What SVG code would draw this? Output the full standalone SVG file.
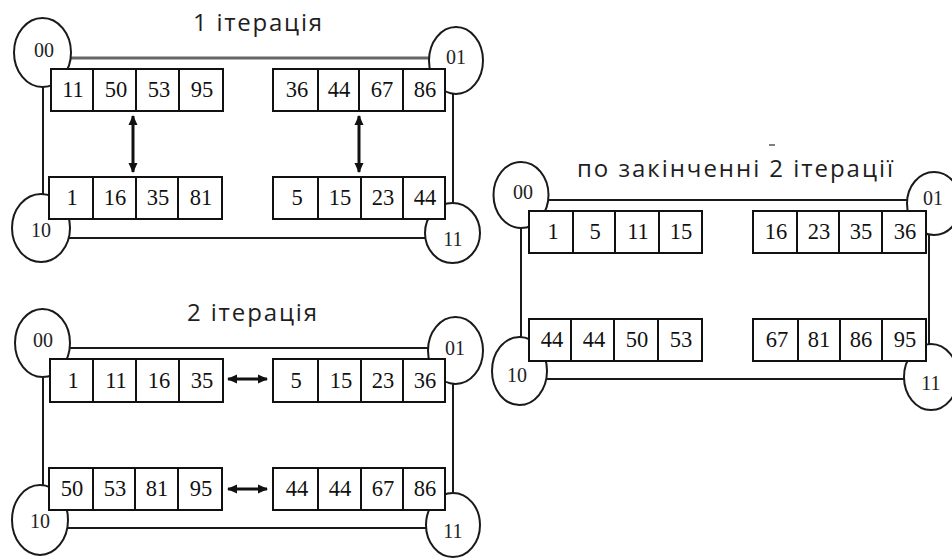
<svg xmlns="http://www.w3.org/2000/svg" width="952" height="560" viewBox="0 0 952 560">
  <style>
    .ring { stroke: #1a1a1a; stroke-width: 2; fill: none; }
    .ring.grey { stroke: #666; stroke-width: 3; }
    .xchg { stroke: #111; stroke-width: 3; fill: none; marker-start: url(#ah); marker-end: url(#ah); }
    .proc ellipse { fill: #fff; stroke: #1a1a1a; stroke-width: 2; }
    .proc rect { fill: #fff; stroke: #111; stroke-width: 2; }
    .lbl { font-family: "Liberation Serif", "Times New Roman", serif; font-size: 20px; fill: #222; text-anchor: middle; }
    .num { font-family: "Liberation Serif", "Times New Roman", serif; font-size: 22.5px; fill: #111; text-anchor: middle; }
    .title { font-family: "Open Sans", "DejaVu Sans", sans-serif; font-size: 24px; fill: #1e1e1e; text-anchor: middle; }
  </style>
  <defs>
    <marker id="ah" viewBox="0 0 10 10" refX="9" refY="5" markerWidth="11" markerHeight="10" markerUnits="userSpaceOnUse" orient="auto-start-reverse">
      <path d="M0,0.5 L10,5 L0,9.5 z" fill="#111"/>
    </marker>
  </defs>

  <rect width="952" height="560" fill="#fff"/>

  <!-- titles -->
  <text class="title" x="257.5" y="31" textLength="129">1 ітерація</text>
  <text class="title" x="252" y="321" textLength="130">2 ітерація</text>
  <text class="title" x="735" y="177" textLength="316">по закінченні 2 ітерації</text>
  <line x1="769" y1="145" x2="775" y2="145" stroke="#555" stroke-width="1.5"/>

  <!-- ring links and exchange arrows -->
  <g id="connectors">
    <!-- iteration 1 -->
    <line class="ring grey" x1="60" y1="58" x2="440" y2="58"/>
    <line class="ring" x1="60" y1="238" x2="440" y2="238"/>
    <line class="ring" x1="43" y1="70" x2="43" y2="210"/>
    <line class="ring" x1="453" y1="80" x2="453" y2="215"/>
    <line class="xchg" x1="133" y1="116" x2="133" y2="172"/>
    <line class="xchg" x1="359" y1="116" x2="359" y2="172"/>
    <!-- iteration 2 -->
    <line class="ring" x1="60" y1="348" x2="440" y2="348"/>
    <line class="ring" x1="60" y1="528" x2="440" y2="528"/>
    <line class="ring" x1="43" y1="360" x2="43" y2="500"/>
    <line class="ring" x1="453" y1="370" x2="453" y2="510"/>
    <line class="xchg" x1="228" y1="379" x2="267" y2="379"/>
    <line class="xchg" x1="228" y1="489" x2="267" y2="489"/>
    <!-- after iteration 2 -->
    <line class="ring" x1="535" y1="200" x2="920" y2="200"/>
    <line class="ring" x1="535" y1="379" x2="920" y2="379"/>
    <line class="ring" x1="521" y1="210" x2="521" y2="355"/>
    <line class="ring" x1="929" y1="220" x2="929" y2="360"/>
  </g>

  <!-- ===== iteration 1 ===== -->
  <g id="p1-00" class="proc">
    <ellipse cx="42.5" cy="52.5" rx="28.5" ry="34.5"/>
    <text class="lbl" x="44" y="57">00</text>
    <rect x="51" y="69" width="42" height="42"/><rect x="93" y="69" width="43" height="42"/>
    <rect x="136" y="69" width="43" height="42"/><rect x="179" y="69" width="44" height="42"/>
    <text class="num" x="73" y="97">11</text><text class="num" x="116" y="97">50</text>
    <text class="num" x="159" y="97">53</text><text class="num" x="202" y="97">95</text>
  </g>
  <g id="p1-01" class="proc">
    <ellipse cx="456" cy="60.5" rx="27" ry="33.5"/>
    <text class="lbl" x="456" y="64">01</text>
    <rect x="273" y="69" width="45" height="42"/><rect x="318" y="69" width="41" height="42"/>
    <rect x="359" y="69" width="44" height="42"/><rect x="403" y="69" width="42" height="42"/>
    <text class="num" x="297" y="97">36</text><text class="num" x="339" y="97">44</text>
    <text class="num" x="382" y="97">67</text><text class="num" x="425" y="97">86</text>
  </g>
  <g id="p1-10" class="proc">
    <ellipse cx="41" cy="228" rx="29" ry="34"/>
    <text class="lbl" x="41" y="237">10</text>
    <rect x="49" y="177" width="44" height="42"/><rect x="93" y="177" width="43" height="42"/>
    <rect x="136" y="177" width="42" height="42"/><rect x="178" y="177" width="44" height="42"/>
    <text class="num" x="72" y="205">1</text><text class="num" x="115" y="205">16</text>
    <text class="num" x="158" y="205">35</text><text class="num" x="201" y="205">81</text>
  </g>
  <g id="p1-11" class="proc">
    <ellipse cx="452.5" cy="233" rx="27.5" ry="30"/>
    <text class="lbl" x="453" y="246">11</text>
    <rect x="273" y="177" width="45" height="42"/><rect x="318" y="177" width="43" height="42"/>
    <rect x="361" y="177" width="42" height="42"/><rect x="403" y="177" width="42" height="42"/>
    <text class="num" x="297" y="205">5</text><text class="num" x="340" y="205">15</text>
    <text class="num" x="383" y="205">23</text><text class="num" x="425" y="205">44</text>
  </g>

  <!-- ===== iteration 2 ===== -->
  <g id="p2-00" class="proc">
    <ellipse cx="42.5" cy="343" rx="27.5" ry="34"/>
    <text class="lbl" x="43" y="347">00</text>
    <rect x="50" y="359" width="43" height="43"/><rect x="93" y="359" width="43" height="43"/>
    <rect x="136" y="359" width="43" height="43"/><rect x="179" y="359" width="44" height="43"/>
    <text class="num" x="73" y="388">1</text><text class="num" x="116" y="388">11</text>
    <text class="num" x="159" y="388">16</text><text class="num" x="202" y="388">35</text>
  </g>
  <g id="p2-01" class="proc">
    <ellipse cx="455.5" cy="350.5" rx="27.5" ry="33.5"/>
    <text class="lbl" x="455" y="355">01</text>
    <rect x="273" y="359" width="45" height="43"/><rect x="318" y="359" width="43" height="43"/>
    <rect x="361" y="359" width="42" height="43"/><rect x="403" y="359" width="42" height="43"/>
    <text class="num" x="296" y="388">5</text><text class="num" x="341" y="388">15</text>
    <text class="num" x="383" y="388">23</text><text class="num" x="425" y="388">36</text>
  </g>
  <g id="p2-10" class="proc">
    <ellipse cx="40" cy="520" rx="28" ry="35"/>
    <text class="lbl" x="40" y="528">10</text>
    <rect x="49" y="468" width="44" height="42"/><rect x="93" y="468" width="42" height="42"/>
    <rect x="135" y="468" width="43" height="42"/><rect x="178" y="468" width="44" height="42"/>
    <text class="num" x="72" y="496">50</text><text class="num" x="115" y="496">53</text>
    <text class="num" x="157" y="496">81</text><text class="num" x="201" y="496">95</text>
  </g>
  <g id="p2-11" class="proc">
    <ellipse cx="453" cy="525" rx="27" ry="32"/>
    <text class="lbl" x="453" y="538">11</text>
    <rect x="273" y="468" width="45" height="42"/><rect x="318" y="468" width="43" height="42"/>
    <rect x="361" y="468" width="42" height="42"/><rect x="403" y="468" width="42" height="42"/>
    <text class="num" x="297" y="496">44</text><text class="num" x="340" y="496">44</text>
    <text class="num" x="383" y="496">67</text><text class="num" x="425" y="496">86</text>
  </g>

  <!-- ===== after iteration 2 ===== -->
  <g id="p3-00" class="proc">
    <ellipse cx="521" cy="195" rx="27.5" ry="33"/>
    <text class="lbl" x="523" y="199">00</text>
    <rect x="529" y="211" width="44" height="42"/><rect x="573" y="211" width="42" height="42"/>
    <rect x="615" y="211" width="44" height="42"/><rect x="659" y="211" width="43" height="42"/>
    <text class="num" x="553" y="239">1</text><text class="num" x="595" y="239">5</text>
    <text class="num" x="638" y="239">11</text><text class="num" x="681" y="239">15</text>
  </g>
  <g id="p3-01" class="proc">
    <ellipse cx="934" cy="203.5" rx="27" ry="31.5"/>
    <text class="lbl" x="933" y="205">01</text>
    <rect x="753" y="211" width="44" height="42"/><rect x="797" y="211" width="42" height="42"/>
    <rect x="839" y="211" width="43" height="42"/><rect x="882" y="211" width="44" height="42"/>
    <text class="num" x="776" y="239">16</text><text class="num" x="819" y="239">23</text>
    <text class="num" x="861" y="239">35</text><text class="num" x="905" y="239">36</text>
  </g>
  <g id="p3-10" class="proc">
    <ellipse cx="519.5" cy="371" rx="27.5" ry="34"/>
    <text class="lbl" x="517" y="382">10</text>
    <rect x="529" y="319" width="42" height="42"/><rect x="571" y="319" width="43" height="42"/>
    <rect x="614" y="319" width="44" height="42"/><rect x="658" y="319" width="44" height="42"/>
    <text class="num" x="552" y="347">44</text><text class="num" x="594" y="347">44</text>
    <text class="num" x="637" y="347">50</text><text class="num" x="681" y="347">53</text>
  </g>
  <g id="p3-11" class="proc">
    <ellipse cx="931" cy="377" rx="27" ry="33"/>
    <text class="lbl" x="931" y="390">11</text>
    <rect x="753" y="319" width="45" height="42"/><rect x="798" y="319" width="42" height="42"/>
    <rect x="840" y="319" width="42" height="42"/><rect x="882" y="319" width="44" height="42"/>
    <text class="num" x="777" y="347">67</text><text class="num" x="819" y="347">81</text>
    <text class="num" x="861" y="347">86</text><text class="num" x="905" y="347">95</text>
  </g>
</svg>
